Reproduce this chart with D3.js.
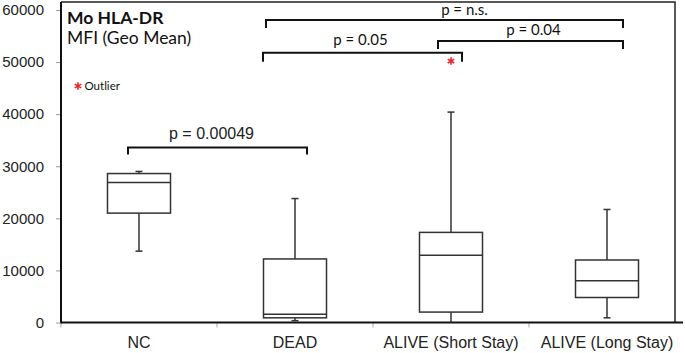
<!DOCTYPE html>
<html>
<head>
<meta charset="utf-8">
<script src="https://cdn.jsdelivr.net/npm/d3@7"></script>
<style>
  body { margin: 0; background: #fff; }
  svg { display: block; }
  .tick-label { font-family: "Liberation Sans", Arial, sans-serif; font-size: 15px; fill: #222; }
  .calibri { font-family: Lato, "Open Sans", sans-serif; fill: #111; }
</style>
</head>
<body>
<div id="wrapper"></div>
<script>
// data
const categories = ["NC", "DEAD", "ALIVE (Short Stay)", "ALIVE (Long Stay)"];
const whiskerLow  = [13700,   350,     0,   900];
const q1          = [21000,   900,  2000,  4800];
const median      = [26900,  1600, 12900,  8000];
const q3          = [28600, 12200, 17300, 12000];
const whiskerHigh = [29000, 23800, 40400, 21700];
const outliers = [{ cat: "ALIVE (Short Stay)", value: 50200 }];
const yTicks = [0, 10000, 20000, 30000, 40000, 50000, 60000];

const brackets = [
  { from: "NC", to: "DEAD", level: 33600, label: "p = 0.00049", calibri: false },
  { from: "DEAD", to: "ALIVE (Short Stay)", level: 51800, label: "p = 0.05", calibri: true },
  { from: "ALIVE (Short Stay)", to: "ALIVE (Long Stay)", level: 54050, label: "p = 0.04", calibri: true },
  { from: "DEAD", to: "ALIVE (Long Stay)", level: 58100, label: "p = n.s.", calibri: true }
];
// pixel offsets of bracket ends / label from category centres (styling only)
const bracketStyle = [
  { dx0: -11, dx1: 12, labelX: -6, drop: 7, gap: 9 },
  { dx0: -32, dx1: 11, labelX: -2, drop: 9, gap: 8 },
  { dx0: -13, dx1: 16, labelX: 3, drop: 8, gap: 6 },
  { dx0: -29, dx1: 16, labelX: 20, drop: 8, gap: 5 }
];

const width = 685, height = 353;
const margin = { left: 61, right: 0, top: 2, bottom: 31 };
const frameRight = 675;

const svg = d3.select("#wrapper").append("svg")
  .attr("width", width).attr("height", height);

const x = d3.scaleBand().domain(categories).range([margin.left, width]).padding(0);
const y = d3.scaleLinear().domain([0, 60000]).range([322.5, 10]);
const cx = c => x(c) + x.bandwidth() / 2;
const boxW = 63, capW = 7;

// frame (top + right)
svg.append("path")
  .attr("d", `M${margin.left},${margin.top}H${frameRight}V${y(0)}`)
  .attr("fill", "none").attr("stroke", "#222").attr("stroke-width", 1.5);

// y axis
const yAxis = svg.append("g")
  .attr("transform", `translate(${margin.left},0)`)
  .call(d3.axisLeft(y).tickValues(yTicks).tickSize(5).tickPadding(12).tickFormat(d3.format("d")));
yAxis.select(".domain").remove();
yAxis.selectAll(".tick line").attr("stroke", "#999");
yAxis.selectAll(".tick text").attr("class", "tick-label").attr("fill", null);
svg.append("line")
  .attr("x1", margin.left).attr("x2", margin.left)
  .attr("y1", margin.top).attr("y2", y(0) + 1)
  .attr("stroke", "#111").attr("stroke-width", 2);

// x axis
const xAxis = svg.append("g")
  .attr("transform", `translate(0,${y(0)})`)
  .call(d3.axisBottom(x).tickSize(0).tickPadding(14));
xAxis.select(".domain").remove();
xAxis.selectAll(".tick text").attr("class", "tick-label").attr("fill", null)
  .style("font-size", "16px");
xAxis.selectAll(".sep").data(categories).enter().append("line")
  .attr("x1", d => x(d)).attr("x2", d => x(d))
  .attr("y1", 0).attr("y2", 5).attr("stroke", "#aaa");
svg.append("line")
  .attr("x1", margin.left).attr("x2", 683)
  .attr("y1", y(0)).attr("y2", y(0))
  .attr("stroke", "#111").attr("stroke-width", 2);

// boxes
const boxData = categories.map((c, i) => ({
  cat: c, lo: whiskerLow[i], q1: q1[i], med: median[i], q3: q3[i], hi: whiskerHigh[i]
}));
const g = svg.append("g").attr("stroke", "#333").attr("stroke-width", 1.5).attr("fill", "none");
const box = g.selectAll(".box").data(boxData).enter().append("g");
box.append("line")
  .attr("x1", d => cx(d.cat)).attr("x2", d => cx(d.cat))
  .attr("y1", d => y(d.q3)).attr("y2", d => y(d.hi));
box.append("line")
  .attr("x1", d => cx(d.cat)).attr("x2", d => cx(d.cat))
  .attr("y1", d => y(d.q1)).attr("y2", d => y(d.lo));
box.append("line")
  .attr("x1", d => cx(d.cat) - capW / 2).attr("x2", d => cx(d.cat) + capW / 2)
  .attr("y1", d => y(d.hi)).attr("y2", d => y(d.hi));
box.filter(d => d.lo > 0).append("line")
  .attr("x1", d => cx(d.cat) - capW / 2).attr("x2", d => cx(d.cat) + capW / 2)
  .attr("y1", d => y(d.lo)).attr("y2", d => y(d.lo));
box.append("rect")
  .attr("x", d => cx(d.cat) - boxW / 2).attr("width", boxW)
  .attr("y", d => y(d.q3)).attr("height", d => y(d.q1) - y(d.q3))
  .attr("fill", "#fff");
box.append("line")
  .attr("x1", d => cx(d.cat) - boxW / 2).attr("x2", d => cx(d.cat) + boxW / 2)
  .attr("y1", d => y(d.med)).attr("y2", d => y(d.med));

// outliers
const star = d3.symbol().type(d3.symbolAsterisk).size(40);
svg.selectAll(".outlier").data(outliers).enter().append("path")
  .attr("d", star)
  .attr("transform", d => `translate(${cx(d.cat)},${y(d.value)})`)
  .attr("fill", "none").attr("stroke", "#e8262c").attr("stroke-width", 1.6);

// brackets
brackets.forEach((b, i) => {
  const s = bracketStyle[i];
  const x0 = cx(b.from) + s.dx0, x1 = cx(b.to) + s.dx1, yy = y(b.level);
  svg.append("path")
    .attr("d", `M${x0},${yy + s.drop}V${yy}H${x1}V${yy + s.drop}`)
    .attr("fill", "none").attr("stroke", "#111").attr("stroke-width", 2);
  svg.append("text")
    .attr("class", b.calibri ? "calibri" : "tick-label")
    .attr("x", (x0 + x1) / 2 + s.labelX)
    .attr("y", yy - s.gap)
    .attr("text-anchor", "middle")
    .style("font-size", b.calibri ? "15px" : "16px")
    .text(b.label);
});

// title and legend
svg.append("text").attr("class", "calibri")
  .attr("x", 67).attr("y", 23.5)
  .style("font-size", "17.5px").style("font-weight", "bold")
  .text("Mo HLA-DR");
svg.append("text").attr("class", "calibri")
  .attr("x", 67).attr("y", 44)
  .style("font-size", "17.5px")
  .text("MFI (Geo Mean)");
svg.append("path")
  .attr("d", star)
  .attr("transform", "translate(78,86)")
  .attr("fill", "none").attr("stroke", "#e8262c").attr("stroke-width", 1.6);
svg.append("text").attr("class", "calibri")
  .attr("x", 84.5).attr("y", 90)
  .style("font-size", "11.5px")
  .text("Outlier");
</script>
</body>
</html>
